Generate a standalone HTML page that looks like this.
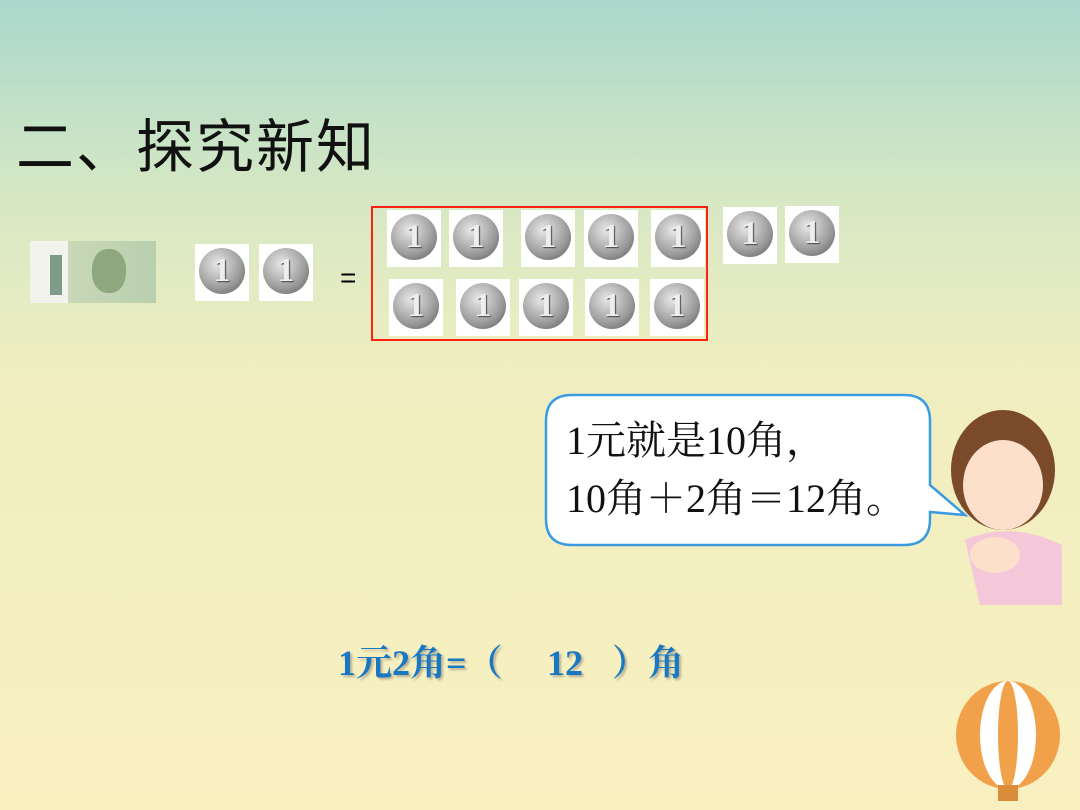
<!DOCTYPE html>
<html><head><meta charset="utf-8"><style>
body{margin:0;width:1080px;height:810px;overflow:hidden;position:relative;font-family:"Liberation Serif","Noto Serif CJK SC",serif;
background:linear-gradient(#aad8cc 0px,#d7e8c4 200px,#f0eec0 380px,#f9f0c0 810px);}
.a{position:absolute}
.c{position:absolute;width:54px;height:57px;background:#fff}
.c::after{content:"1";position:absolute;left:4px;top:4px;width:46px;height:46px;border-radius:50%;
background:radial-gradient(circle at 40% 35%,#e8e8e8,#9a9a9a 60%,#555 100%);color:#eee;font:bold 34px "Liberation Serif",serif;text-align:center;line-height:46px;text-shadow:1px 1px 1px #444}
.b{position:absolute;font-size:36px;line-height:50px;height:50px;font-weight:bold;color:#1a78c2;text-shadow:2px 2px 2px #b8b090;white-space:pre;top:638px}
</style></head><body>
<div class="a" style="left:16px;top:100px;font-size:58px;letter-spacing:2px;font-family:'Noto Sans CJK SC',sans-serif;color:#111">二、探究新知</div>
<div class="a" style="left:30px;top:241px;width:126px;height:62px;background:linear-gradient(90deg,#f3f3ee 0 30%,#c8d8b8 30%,#b9cfae 100%)"><div class="a" style="left:62px;top:8px;width:34px;height:44px;border-radius:45%;background:#8fa77f"></div><div class="a" style="left:20px;top:14px;width:12px;height:40px;background:#7d9b86"></div></div>
<div class="c" style="left:195px;top:244px"></div><div class="c" style="left:259px;top:244px"></div>
<div class="a" style="left:340px;top:262px;font-size:28px;font-family:'Liberation Sans',sans-serif">=</div>
<div class="a" style="left:371px;top:206px;width:333px;height:131px;border:2px solid #f21"></div>
<div class="c" style="left:387px;top:210px"></div><div class="c" style="left:449px;top:210px"></div><div class="c" style="left:521px;top:210px"></div><div class="c" style="left:584px;top:210px"></div><div class="c" style="left:651px;top:210px"></div>
<div class="c" style="left:389px;top:279px"></div><div class="c" style="left:456px;top:279px"></div><div class="c" style="left:519px;top:279px"></div><div class="c" style="left:585px;top:279px"></div><div class="c" style="left:650px;top:279px"></div>
<div class="c" style="left:723px;top:207px"></div><div class="c" style="left:785px;top:206px"></div>
<svg class="a" style="left:0;top:0" width="1080" height="810">
<path d="M572 395 H904 Q930 395 930 421 V485 L965 515 L930 512 V519 Q930 545 904 545 H572 Q546 545 546 519 V421 Q546 395 572 395Z" fill="#fff" stroke="#3a9be0" stroke-width="2.5"/>
<ellipse cx="1003" cy="470" rx="52" ry="60" fill="#7a4a2a"/>
<ellipse cx="1003" cy="485" rx="40" ry="45" fill="#fce0cc"/>
<path d="M965 540 Q1010 520 1062 545 L1062 605 L980 605 Z" fill="#f4c8d8"/>
<ellipse cx="995" cy="555" rx="25" ry="18" fill="#fce0cc"/>
<ellipse cx="1008" cy="735" rx="52" ry="54" fill="#f1a14a"/>
<ellipse cx="1008" cy="735" rx="28" ry="54" fill="#fff"/>
<ellipse cx="1008" cy="735" rx="10" ry="54" fill="#f1a14a"/>
<rect x="998" y="785" width="20" height="16" fill="#d98c3a"/>
</svg>
<div class="a" style="left:566px;top:412px;font-size:40px;line-height:58px;color:#111;white-space:nowrap">1元就是10角，<br>10角＋2角＝12角。</div>
<div class="b" style="left:338px">1元2角=（</div>
<div class="b" style="left:547px">12</div>
<div class="b" style="left:612px">）角</div>
</body></html>
